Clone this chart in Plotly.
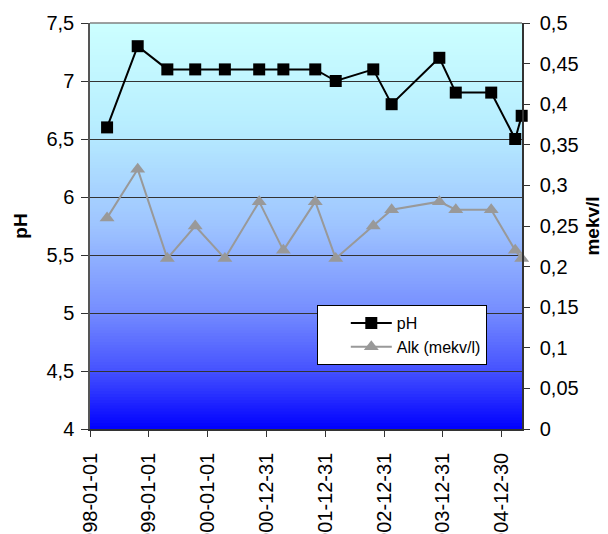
import plotly.graph_objects as go

# ---- data ----
dates = ["1998-04-17", "1998-10-24", "1999-04-26", "1999-10-16", "2000-04-17",
         "2000-11-16", "2001-04-15", "2001-10-30", "2002-03-06", "2002-10-25",
         "2003-02-16", "2003-12-09", "2004-03-20", "2004-10-26", "2005-03-24",
         "2005-05-03"]
ph = [6.6, 7.3, 7.1, 7.1, 7.1, 7.1, 7.1, 7.1, 7.0, 7.1, 6.8, 7.2, 6.9, 6.9, 6.5, 6.7]
alk = [0.26, 0.32, 0.21, 0.25, 0.21, 0.28, 0.22, 0.28, 0.21, 0.25, 0.27, 0.28, 0.27, 0.27, 0.22, 0.21]

tick_dates = ["1998-01-01", "1999-01-01", "2000-01-01", "2000-12-31",
              "2001-12-31", "2002-12-31", "2003-12-31", "2004-12-30"]
tick_labels = ["1998-01-01", "1999-01-01", "2000-01-01", "2000-12-31",
               "2001-12-31", "2002-12-31", "2003-12-31", "2004-12-30"]
x_range = ["1998-01-01", "2005-05-05"]

ph_ticks = [4, 4.5, 5, 5.5, 6, 6.5, 7, 7.5]
ph_labels = ["4", "4,5", "5", "5,5", "6", "6,5", "7", "7,5"]
alk_ticks = [0, 0.05, 0.1, 0.15, 0.2, 0.25, 0.3, 0.35, 0.4, 0.45, 0.5]
alk_labels = ["0", "0,05", "0,1", "0,15", "0,2", "0,25", "0,3", "0,35", "0,4", "0,45", "0,5"]

FONT = "Liberation Sans, Arial, sans-serif"

fig = go.Figure()

fig.add_trace(go.Scatter(
    x=dates, y=ph, name="pH", mode="lines+markers",
    line=dict(color="black", width=2),
    marker=dict(symbol="square", size=12, color="black"),
    cliponaxis=False,
))
fig.add_trace(go.Scatter(
    x=dates, y=alk, name="Alk (mekv/l)", mode="lines+markers", yaxis="y2",
    line=dict(color="#999999", width=2),
    marker=dict(symbol="triangle-up", size=13, color="#999999"),
    cliponaxis=False,
))

# ---- gradient background (style) ----
stops = [(0.0, (0xCC, 0xFF, 0xFF)), (0.25, (0xB8, 0xEE, 0xFF)), (0.5, (0x9E, 0xC4, 0xFF)),
         (0.7, (0x78, 0x90, 0xFF)), (0.85, (0x48, 0x55, 0xFF)), (1.0, (0x00, 0x00, 0xFF))]


def col_at(t):
    for (t0, c0), (t1, c1) in zip(stops[:-1], stops[1:]):
        if t <= t1:
            f = (t - t0) / (t1 - t0)
            return "rgb(%d,%d,%d)" % tuple(round(a + (b - a) * f) for a, b in zip(c0, c1))
    return "rgb(0,0,255)"


N = 140
shapes = []
for i in range(N):
    t = (i + 0.5) / N
    shapes.append(dict(type="rect", xref="x domain", yref="y domain",
                       x0=0, x1=1, y0=1 - (i + 1) / N - 0.002, y1=1 - i / N,
                       fillcolor=col_at(t), line=dict(width=0), layer="below"))
# top border of plot area
shapes.append(dict(type="line", xref="x domain", yref="y domain", x0=0, x1=1, y0=1, y1=1,
                   line=dict(color="#808080", width=1.5), layer="above"))

fig.update_layout(
    width=608, height=534,
    margin=dict(l=90, r=86, t=23, b=105, autoexpand=False),
    paper_bgcolor="white", plot_bgcolor="rgba(0,0,0,0)",
    font=dict(family=FONT, size=20, color="black"),
    shapes=shapes,
    showlegend=True,
    legend=dict(x=0.525, y=0.305, xanchor="left", yanchor="top",
                bgcolor="white", bordercolor="black", borderwidth=1,
                font=dict(family=FONT, size=16, color="black"),
                tracegroupgap=0, itemwidth=41, indentation=28),
    xaxis=dict(type="date", range=x_range, tickvals=tick_dates, ticktext=tick_labels,
               tickangle=-90, ticks="outside", ticklen=6, tickcolor="#333",
               showline=True, linecolor="#333", linewidth=1.5, showgrid=False,
               zeroline=False, tickfont=dict(size=20), automargin=False,
               ticklabelstandoff=8),
    yaxis=dict(range=[4, 7.5], tickvals=ph_ticks, ticktext=ph_labels,
               ticks="outside", ticklen=7, tickcolor="#333",
               showline=True, linecolor="#555", linewidth=1.5,
               showgrid=True, gridcolor="#333", gridwidth=1, zeroline=False,
               automargin=False, ticklabelstandoff=3,
               title=dict(text="<b>pH</b>", font=dict(size=19), standoff=14)),
    yaxis2=dict(range=[0, 0.5], tickvals=alk_ticks, ticktext=alk_labels,
                overlaying="y", side="right", anchor="x",
                ticks="outside", ticklen=6, tickcolor="#333",
                showline=True, linecolor="#333", linewidth=1.5,
                showgrid=False, zeroline=False, automargin=False,
                ticklabelstandoff=6,
                title=dict(text="<b>mekv/l</b>", font=dict(size=19), standoff=8)),
)

fig.write_html("out.html")
